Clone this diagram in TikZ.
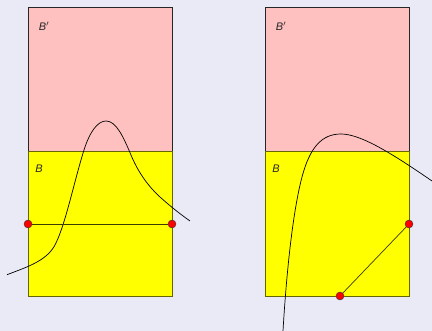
\documentclass[tikz,border=0pt]{standalone}
\usepackage{fontspec}
\setmainfont{Liberation Sans}
\begin{document}
\begin{tikzpicture}[x=1pt,y=-1pt,
  bgcol/.style={fill={rgb,255:red,234;green,234;blue,246}},
  pinkbox/.style={fill={rgb,255:red,255;green,192;blue,192},draw=black!85,line width=0.8pt},
  yellowbox/.style={fill={rgb,255:red,255;green,255;blue,0},draw={rgb,255:red,102;green,102;blue,0},line width=0.8pt},
  curve/.style={draw=black,line width=0.7pt},
  seg/.style={draw={rgb,255:red,60;green,60;blue,0},line width=0.7pt},
  pt/.style={circle,fill=red,draw=black!80,line width=0.4pt,inner sep=0pt,minimum size=8pt},
  lab/.style={font=\itshape\fontsize{11}{13}\selectfont,text=black!85,inner sep=0pt}]
\path[bgcol] (0,0) rectangle (432,331);
\useasboundingbox (0,0) rectangle (432,331);
% left panel
\path[pinkbox] (28,7) rectangle (172,151);
\path[yellowbox] (28,151) rectangle (172,296);
\node[lab] (lBp) at (44,26) {B$'$};
\node[lab] (lB) at (39,169) {B};
\draw[curve] (7,274.7) .. controls (30,266) and (48,260) .. (56,243)
  .. controls (66,222) and (74,182) .. (84,150)
  .. controls (90,131) and (98,121) .. (106,121)
  .. controls (116,121) and (123,136) .. (131,155)
  .. controls (138,172) and (148,186) .. (160,197)
  .. controls (170,206) and (180,214) .. (190,221);
\node[pt] (lA) at (28,224) {};
\node[pt] (lC) at (172,224) {};
\draw[seg] (lA) -- (lC);
% right panel
\path[pinkbox] (265,7) rectangle (409,151);
\path[yellowbox] (265,151) rectangle (409,296);
\node[lab] (rBp) at (281,26) {B$'$};
\node[lab] (rB) at (276,169) {B};
\draw[curve] (283,331) .. controls (286,280) and (292,215) .. (302,177)
  .. controls (310,147) and (322,134) .. (341,134)
  .. controls (360,134) and (390,152) .. (432,181);
\node[pt] (rA) at (409,224) {};
\node[pt] (rC) at (340,296) {};
\draw[seg] (rC) -- (rA);
\end{tikzpicture}
\end{document}
